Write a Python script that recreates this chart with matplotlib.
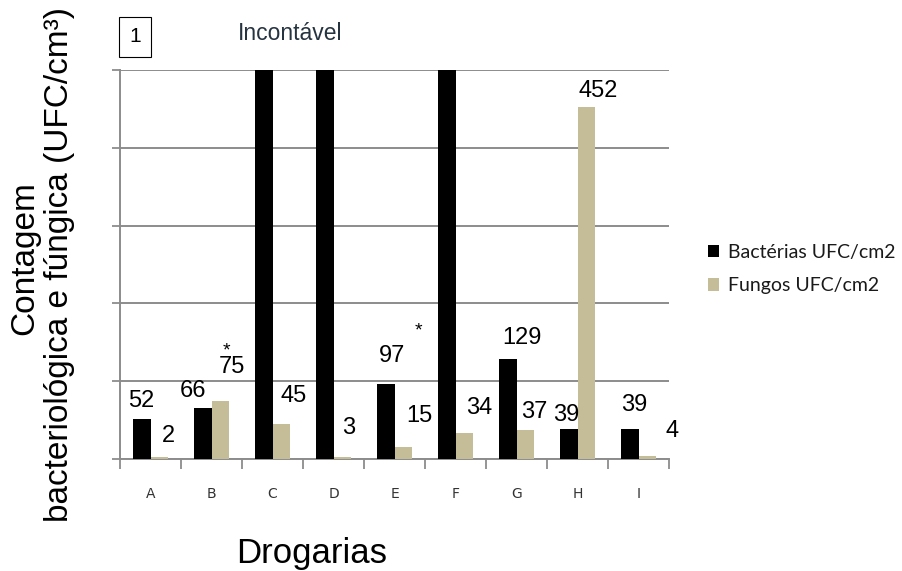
import matplotlib.pyplot as plt
import numpy as np

# Contagem por drogaria (None = incontável)
drogarias = ["A", "B", "C", "D", "E", "F", "G", "H", "I"]
bacterias = [52, 66, None, None, 97, None, 129, 39, 39]
fungos = [2, 75, 45, 3, 15, 34, 37, 452, 4]
y_max = 500

# deslocamento dos rótulos em pixels (dx, dy)
off_bact = [(-1, 7), (-10, 6), None, None, (6, 17), None, (14, 10), (-3, 3), (4, 13)]
off_fung = [(9, 10), (12, 23), (13, 17), (7, 18), (16, 20), (15, 14), (9, 7), (12, 5), (25, 14)]

cor_bact = "black"
cor_fung = "#C4BD97"
cor_grade = "#8C8C8C"

fig = plt.figure(figsize=(9.02, 5.71), dpi=100)
ax = fig.add_axes([120 / 902, 112 / 571, 549 / 902, 389 / 571])

x = np.arange(len(drogarias))
w = 0.28
alt_bact = [y_max if v is None else v for v in bacterias]

ax.bar(x - w / 2, alt_bact, w, color=cor_bact, label="Bactérias UFC/cm2", zorder=3)
ax.bar(x + w / 2, fungos, w, color=cor_fung, label="Fungos UFC/cm2", zorder=3)

# rótulos de valor
for i, v in enumerate(bacterias):
    if v is None:
        continue
    ax.annotate(str(v), (x[i] - w / 2, v), xytext=off_bact[i], textcoords="offset pixels",
                ha="center", va="bottom", fontsize=17, family="Liberation Sans")
for i, v in enumerate(fungos):
    ax.annotate(str(v), (x[i] + w / 2, v), xytext=off_fung[i], textcoords="offset pixels",
                ha="center", va="bottom", fontsize=17, family="Liberation Sans")

# asteriscos
ax.annotate("*", (x[1] + w / 2, fungos[1]), xytext=(6, 50), textcoords="offset pixels",
            ha="center", va="center", fontsize=14, family="Liberation Sans")
ax.annotate("*", (x[4] + w / 2, fungos[4]), xytext=(15, 116), textcoords="offset pixels",
            ha="center", va="center", fontsize=14, family="Liberation Sans")

ax.set_xlim(-0.5, len(drogarias) - 0.5)
ax.set_ylim(0, y_max)
ax.set_yticks(np.arange(0, y_max + 1, 100))
ax.set_yticklabels([])
ax.grid(axis="y", color=cor_grade, lw=1.4, zorder=0)

ax.set_xticks(np.arange(-0.5, len(drogarias)), labels=[])
ax.set_xticks(x, labels=drogarias, minor=True)
ax.tick_params(axis="x", which="major", length=7, width=1.3, color=cor_grade, direction="out")
ax.tick_params(axis="x", which="minor", length=0, pad=20, labelsize=10, labelcolor="#333333")
ax.tick_params(axis="y", length=6, width=1.3, color=cor_grade, direction="out")

for s in ["top", "right"]:
    ax.spines[s].set_visible(False)
for s in ["left", "bottom"]:
    ax.spines[s].set_color(cor_grade)
    ax.spines[s].set_linewidth(1.4)

# textos do título e eixos
fig.text(135 / 902, 1 - 37 / 571, "1", ha="center", va="center", fontsize=15,
         family="Liberation Sans",
         bbox=dict(boxstyle="square,pad=0.5", fc="white", ec="black", lw=0.8))
fig.text(290 / 902, 1 - 34 / 571, "Incontável", ha="center", va="center", fontsize=16.5,
         family="Liberation Sans", color="#263340")
fig.text(312 / 902, 1 - 553 / 571, "Drogarias", ha="center", va="center", fontsize=25,
         family="Liberation Sans")
fig.text(25 / 902, 1 - 258 / 571, "Contagem", ha="center", va="center", rotation=90,
         fontsize=24, family="Liberation Sans")
fig.text(60 / 902, 1 - 264 / 571, "bacteriológica e fúngica (UFC/cm³)", ha="center",
         va="center", rotation=90, fontsize=24, family="Liberation Sans")

fig.legend(loc="center left", bbox_to_anchor=(690 / 902, 1 - 269 / 571), frameon=False,
           prop={"family": "Lato", "size": 14}, handlelength=0.6, handleheight=0.6,
           handletextpad=0.45, labelspacing=0.85, labelcolor="#1a1a1a")

fig.savefig("out.png", dpi=100)
